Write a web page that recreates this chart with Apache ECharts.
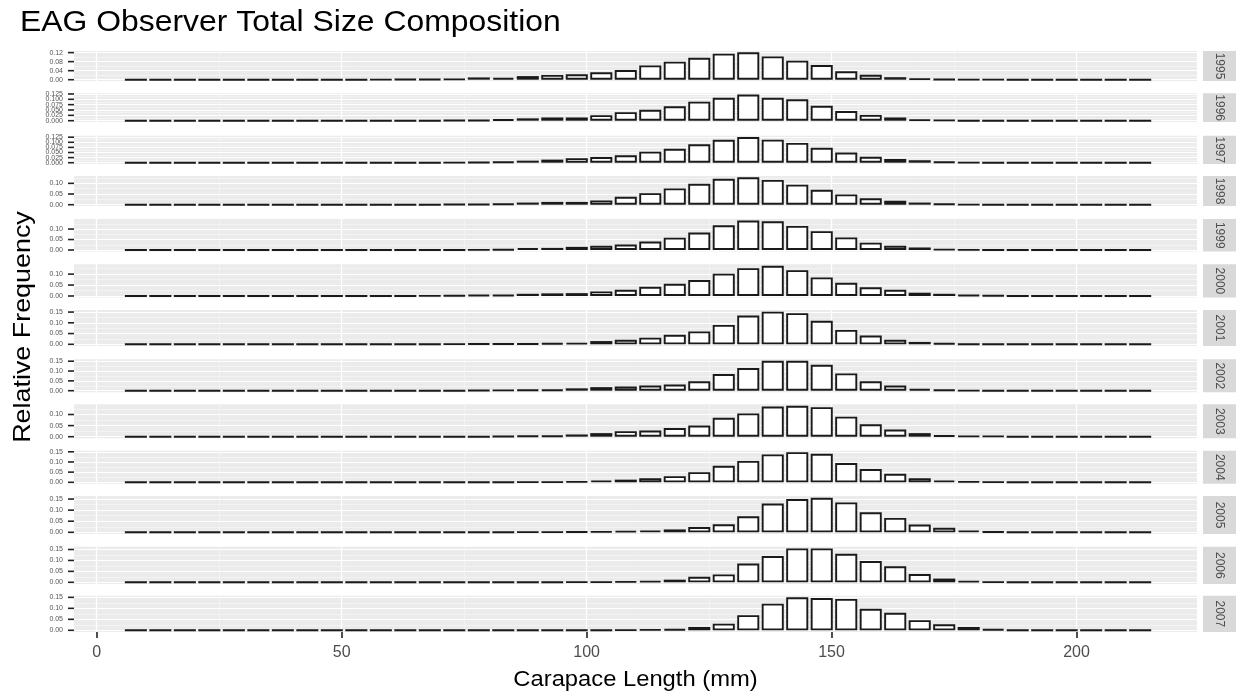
<!DOCTYPE html>
<html><head><meta charset="utf-8">
<script src="https://cdn.jsdelivr.net/npm/echarts@6/dist/echarts.min.js"></script>
<style>html,body{margin:0;padding:0;background:#fff}#c{width:1238px;height:694px}</style>
</head><body><div id="c"></div>
<script>
// ---------------- data ----------------
const years = ['1995','1996','1997','1998','1999','2000','2001','2002','2003','2004','2005','2006','2007'];
const lengths = [8,13,18,23,28,33,38,43,48,53,58,63,68,73,78,83,88,93,98,103,108,113,118,123,128,133,138,143,148,153,158,163,168,173,178,183,188,193,198,203,208,213];

const f1995 = [0,0,0,0,0,0,0,0,0,0, 0.001,0.002,0.002,0.003,0.010,0.008,0.016,0.021,0.024,0.033, 0.043,0.063,0.080,0.097,0.115,0.121,0.103,0.084,0.065,0.037, 0.022,0.011,0.005,0.002,0.001,0.001,0,0,0,0, 0,0];
const f1996 = [0,0,0,0,0,0,0,0,0,0, 0,0,0,0.002,0.002,0.007,0.011,0.015,0.015,0.026, 0.040,0.051,0.067,0.089,0.107,0.122,0.107,0.100,0.070,0.045, 0.027,0.015,0.005,0.003,0,0,0,0,0,0, 0,0];
const f1997 = [0,0,0,0,0,0,0,0,0,0, 0,0,0,0.001,0.002,0.005,0.010,0.015,0.022,0.028, 0.036,0.054,0.068,0.090,0.112,0.126,0.113,0.097,0.073,0.050, 0.029,0.018,0.012,0.005,0.001,0,0,0,0,0, 0,0];
const f1998 = [0,0,0,0,0,0,0,0,0,0, 0,0,0,0.002,0.002,0.004,0.010,0.013,0.013,0.020, 0.037,0.054,0.076,0.098,0.121,0.128,0.116,0.094,0.070,0.048, 0.030,0.018,0.010,0.004,0.001,0,0,0,0,0, 0,0];
const f1999 = [0,0,0,0,0,0,0,0,0,0, 0,0,0,0,0.001,0.003,0.009,0.010,0.015,0.020, 0.026,0.040,0.059,0.083,0.118,0.141,0.137,0.115,0.090,0.060, 0.035,0.020,0.012,0.004,0.001,0,0,0,0,0, 0,0];
const f2000 = [0,0,0,0,0,0,0,0,0,0, 0,0,0.001,0.002,0.005,0.004,0.010,0.012,0.013,0.021, 0.028,0.042,0.056,0.073,0.102,0.127,0.138,0.118,0.085,0.060, 0.040,0.028,0.015,0.010,0.004,0.002,0,0,0,0, 0,0];
const f2001 = [0,0,0,0,0,0,0,0,0,0, 0,0,0,0.002,0.003,0.003,0.003,0.005,0.006,0.015, 0.021,0.031,0.044,0.060,0.090,0.134,0.152,0.145,0.109,0.067, 0.041,0.021,0.011,0.005,0.001,0,0,0,0,0, 0,0];
const f2002 = [0,0,0,0,0,0,0,0,0,0, 0,0,0,0,0.002,0.003,0.004,0.005,0.012,0.018, 0.021,0.026,0.031,0.048,0.085,0.115,0.152,0.152,0.132,0.088, 0.048,0.026,0.009,0.004,0.001,0,0,0,0,0, 0,0];
const f2003 = [0,0,0,0,0,0,0,0,0,0, 0,0,0,0,0,0.002,0.004,0.004,0.010,0.016, 0.025,0.028,0.039,0.050,0.085,0.105,0.136,0.139,0.133,0.090, 0.056,0.032,0.016,0.006,0.003,0.003,0,0,0,0, 0,0];
const f2004 = [0,0,0,0,0,0,0,0,0,0, 0,0,0,0.001,0.001,0.001,0.002,0.002,0.004,0.009, 0.013,0.020,0.030,0.050,0.081,0.105,0.137,0.148,0.140,0.095, 0.065,0.042,0.020,0.009,0.004,0.002,0,0,0,0, 0,0];
const f2005 = [0,0,0,0,0,0,0,0,0,0, 0,0,0,0,0.001,0.001,0.002,0.002,0.003,0.004, 0.006,0.008,0.013,0.024,0.036,0.072,0.130,0.150,0.156,0.135, 0.090,0.065,0.035,0.020,0.008,0.003,0,0,0,0, 0,0];
const f2006 = [0,0,0,0,0,0,0,0,0,0, 0,0,0,0,0,0,0,0.001,0.002,0.002, 0.004,0.006,0.012,0.025,0.036,0.086,0.120,0.155,0.155,0.130, 0.097,0.073,0.038,0.017,0.006,0.002,0,0,0,0, 0,0];
const f2007 = [0,0,0,0,0,0,0,0,0,0, 0,0,0,0,0,0,0,0,0.001,0.001, 0.002,0.004,0.005,0.015,0.030,0.069,0.121,0.150,0.147,0.143, 0.098,0.080,0.046,0.027,0.015,0.005,0,0,0,0, 0,0];
const freqs = [f1995,f1996,f1997,f1998,f1999,f2000,f2001,f2002,f2003,f2004,f2005,f2006,f2007];

// tick labels
const ticksA = [0, 0.04, 0.08, 0.12];
const ticksB = [0, 0.025, 0.05, 0.075, 0.1, 0.125];
const ticksC = [0, 0.05, 0.1, 0.15];
const yTickSets = [ticksA, ticksB, ticksB, ticksC, ticksC, ticksC, ticksC, ticksC, ticksC, ticksC, ticksC, ticksC, ticksC];
const yTickDecimals = [2, 3, 3, 2, 2, 2, 2, 2, 2, 2, 2, 2, 2];
const xTicks = [0, 50, 100, 150, 200];
const xMinorTicks = [25, 75, 125, 175];

// ---------------- layout ----------------
const panelTop  = [51, 93.3, 135.7, 176, 219, 264.3, 310, 359.3, 404.3, 450.7, 496, 546.7, 595.7];
const panelZero = [79.7, 120.7, 162.7, 204.7, 250, 296, 344.3, 390.7, 436.7, 482.3, 532.3, 582.3, 630.3];
const GRID_LEFT = 74, GRID_RIGHT = 41;
const X_MIN = -4.63, X_MAX = 224.6;
const FONT = 'Liberation Sans, Arial, sans-serif';

const grids = [], xAxes = [], yAxes = [], series = [], graphics = [];
const majorSets = [];
const n = years.length;

for (let i = 0; i < n; i++) {
  const vals = freqs[i];
  const ymax = Math.max.apply(null, vals);
  const lo = -0.05 * ymax, hi = 1.05 * ymax;
  const top = panelTop[i];
  const h = (panelZero[i] - top) * 1.1 / 1.05;
  const isLast = i === n - 1;

  grids.push({left: GRID_LEFT, right: GRID_RIGHT, top: top, height: h,
    show: true, backgroundColor: '#EBEBEB', borderWidth: 0, containLabel: false});

  xAxes.push({
    type: 'value', gridIndex: i, min: X_MIN, max: X_MAX, position: 'bottom',
    axisLine: {show: false, onZero: false},
    axisTick: {show: isLast, customValues: xTicks, length: 6, lineStyle: {color: '#222', width: 1.6}},
    axisLabel: {show: isLast, customValues: xTicks, fontSize: 16, color: '#4D4D4D', fontFamily: FONT, margin: 13,
      showMinLabel: true, showMaxLabel: true, hideOverlap: false},
    splitLine: {show: true, lineStyle: {color: '#FFFFFF', width: 1.3}}
  });
  xAxes.push({
    type: 'value', gridIndex: i, min: X_MIN, max: X_MAX, position: 'top',
    axisLine: {show: false, onZero: false},
    axisTick: {show: false, customValues: xMinorTicks},
    axisLabel: {show: false, customValues: xMinorTicks},
    splitLine: {show: true, lineStyle: {color: '#F7F7F7', width: 0.7}}
  });

  const tset = yTickSets[i];
  const majors = tset.filter(v => v <= hi);
  majorSets.push(majors);
  const step = tset[1] - tset[0];
  const minors = tset.map(v => v + step / 2).filter(v => v <= hi);

  yAxes.push({
    type: 'value', gridIndex: i, min: lo, max: hi, position: 'left',
    axisLine: {show: false, onZero: false},
    axisTick: {show: false, customValues: majors},
    axisLabel: {show: false, customValues: majors},
    splitLine: {show: true, lineStyle: {color: '#FFFFFF', width: 1.2}}
  });
  yAxes.push({
    type: 'value', gridIndex: i, min: lo, max: hi, position: 'right',
    axisLine: {show: false, onZero: false},
    axisTick: {show: false, customValues: minors},
    axisLabel: {show: false, customValues: minors},
    splitLine: {show: true, lineStyle: {color: '#F7F7F7', width: 0.7}}
  });

  series.push({
    type: 'bar', name: years[i], xAxisIndex: 2 * i, yAxisIndex: 2 * i,
    barWidth: '90%',
    itemStyle: {color: '#FFFFFF', borderColor: '#1A1A1A', borderWidth: 1.9},
    data: lengths.map((x, j) => [x, vals[j]]),
    silent: true
  });

  // facet strip
  graphics.push({type: 'rect', left: 1203, top: top, shape: {width: 33, height: h}, style: {fill: '#D9D9D9'}, silent: true});
  graphics.push({type: 'text', x: 1219.5, y: top + h / 2, rotation: -Math.PI / 2,
    style: {text: years[i], font: '12px ' + FONT, fill: '#4D4D4D', align: 'center', verticalAlign: 'middle'}, silent: true});
}

// titles
graphics.push({type: 'text', x: 20, y: 23, scaleX: 1.1,
  style: {text: 'EAG Observer Total Size Composition', font: '29px ' + FONT, fill: '#000', align: 'left', verticalAlign: 'middle'}});
graphics.push({type: 'text', x: (GRID_LEFT + 1238 - GRID_RIGHT) / 2, y: 680, scaleX: 1.08,
  style: {text: 'Carapace Length (mm)', font: '22px ' + FONT, fill: '#000', align: 'center', verticalAlign: 'middle'}});
graphics.push({type: 'text', x: 23, y: 327, rotation: Math.PI / 2, scaleX: 1.12,
  style: {text: 'Relative Frequency', font: '24px ' + FONT, fill: '#000', align: 'center', verticalAlign: 'middle'}});

const chart = echarts.init(document.getElementById('c'), null, {renderer: 'canvas', width: 1238, height: 694});
chart.setOption({
  animation: false,
  backgroundColor: '#FFFFFF',
  grid: grids, xAxis: xAxes, yAxis: yAxes, series: series,
  graphic: {elements: graphics}
});

// y ticks and tick labels (all shown, even when they overlap, as in the original), placed through the axis scales
const labelEls = [];
for (let i = 0; i < n; i++) {
  const dec = yTickDecimals[i];
  majorSets[i].forEach(v => {
    const py = chart.convertToPixel({yAxisIndex: 2 * i}, v);
    labelEls.push({type: 'line', silent: true, z: 10,
      shape: {x1: GRID_LEFT - 6, y1: py, x2: GRID_LEFT, y2: py},
      style: {stroke: '#222', lineWidth: 1.6}});
    labelEls.push({type: 'text', x: GRID_LEFT - 11, y: py, silent: true,
      style: {text: v.toFixed(dec), font: '7px ' + FONT, fill: '#555', align: 'right', verticalAlign: 'middle'}});
  });
}
chart.setOption({graphic: {elements: graphics.concat(labelEls)}});
</script></body></html>
